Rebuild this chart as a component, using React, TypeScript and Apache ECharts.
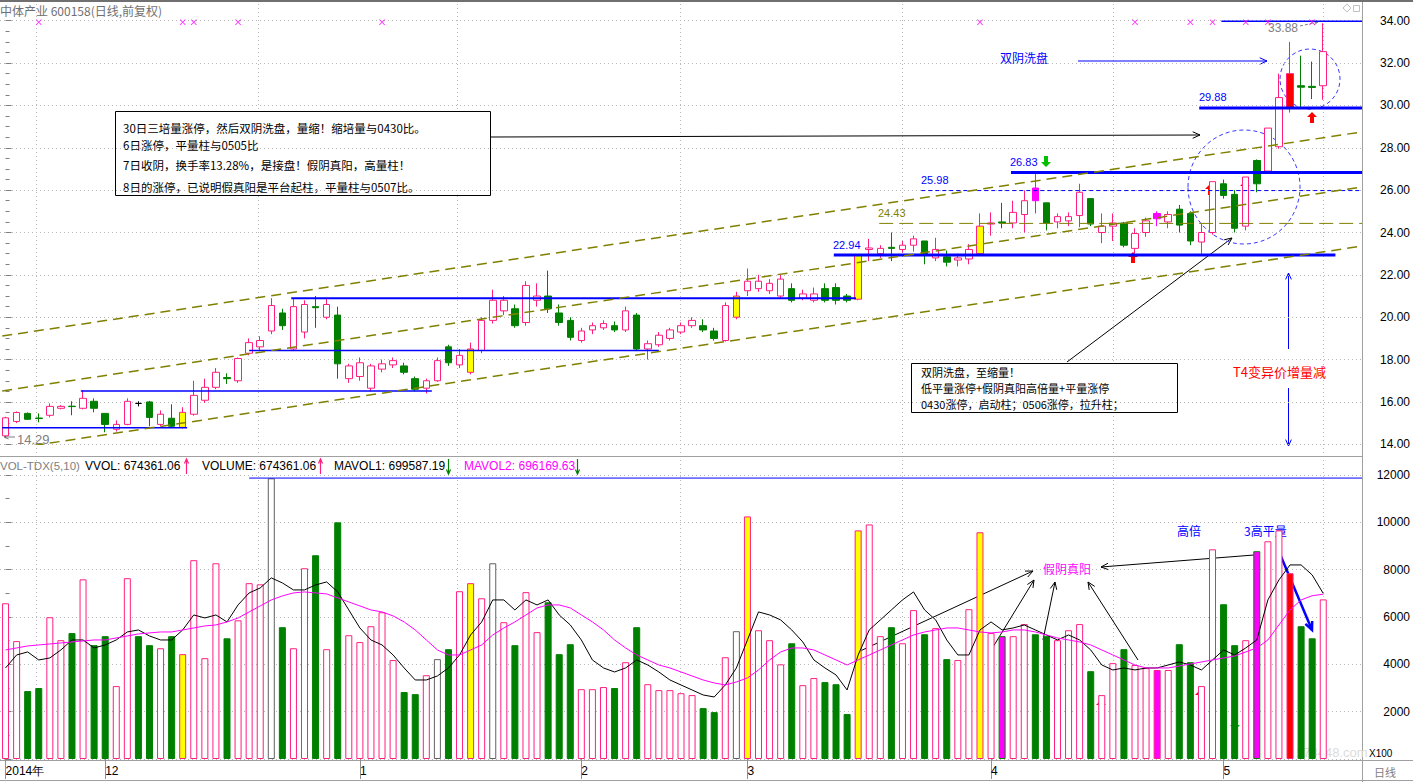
import { useEffect, useRef } from 'react';
import * as echarts from 'echarts';

// ---------- DATA ----------
const dates: string[] = [
  '2014-11-18','2014-11-19','2014-11-20','2014-11-21','2014-11-24','2014-11-25','2014-11-26','2014-11-27','2014-11-28',
  '2014-12-01','2014-12-02','2014-12-03','2014-12-04','2014-12-05','2014-12-08','2014-12-09','2014-12-10','2014-12-11','2014-12-12',
  '2014-12-15','2014-12-16','2014-12-17','2014-12-18','2014-12-19','2014-12-22','2014-12-23','2014-12-24','2014-12-25','2014-12-26',
  '2014-12-29','2014-12-30','2014-12-31',
  '2015-01-05','2015-01-06','2015-01-07','2015-01-08','2015-01-09','2015-01-12','2015-01-13','2015-01-14','2015-01-15','2015-01-16',
  '2015-01-19','2015-01-20','2015-01-21','2015-01-22','2015-01-23','2015-01-26','2015-01-27','2015-01-28','2015-01-29','2015-01-30',
  '2015-02-02','2015-02-03','2015-02-04','2015-02-05','2015-02-06','2015-02-09','2015-02-10','2015-02-11','2015-02-12','2015-02-13',
  '2015-02-16','2015-02-17','2015-02-25','2015-02-26','2015-02-27',
  '2015-03-02','2015-03-03','2015-03-04','2015-03-05','2015-03-06','2015-03-09','2015-03-10','2015-03-11','2015-03-12','2015-03-13',
  '2015-03-16','2015-03-17','2015-03-18','2015-03-19','2015-03-20','2015-03-23','2015-03-24','2015-03-25','2015-03-26','2015-03-27',
  '2015-03-30','2015-03-31',
  '2015-04-01','2015-04-02','2015-04-03','2015-04-07','2015-04-08','2015-04-09','2015-04-10','2015-04-13','2015-04-14','2015-04-15',
  '2015-04-16','2015-04-17','2015-04-20','2015-04-21','2015-04-22','2015-04-23','2015-04-24','2015-04-27','2015-04-28','2015-04-29',
  '2015-04-30',
  '2015-05-04','2015-05-05','2015-05-06','2015-05-07','2015-05-08','2015-05-11','2015-05-12','2015-05-13','2015-05-14','2015-05-15',
];

// [open, close, low, high]
const candles: number[][] = [
  [14.40,15.25,14.29,15.30],[15.08,15.50,15.00,15.55],[15.46,15.18,15.15,15.50],[15.24,15.22,15.04,15.46],[15.37,15.79,15.27,15.93],
  [15.70,15.79,15.65,15.85],[15.80,15.78,15.37,16.03],[15.70,16.17,15.65,16.55],[16.03,15.70,15.51,16.17],[15.46,14.94,14.57,15.46],
  [14.71,14.94,14.60,15.13],[14.94,16.03,14.90,16.17],[15.93,15.93,15.79,16.03],[16.00,15.27,14.85,16.05],[14.94,15.42,14.85,15.60],
  [15.23,14.85,14.80,15.89],[14.80,15.51,14.75,15.75],[15.42,16.31,15.35,17.00],[16.08,16.69,15.95,17.10],[16.69,17.40,16.60,17.60],
  [17.15,17.10,16.85,17.35],[17.00,18.05,16.90,18.10],[18.30,18.80,18.20,19.00],[18.60,18.90,18.40,19.10],[19.35,20.55,19.20,20.90],
  [20.20,19.60,19.40,20.40],[18.50,20.50,18.40,20.90],[19.30,20.60,19.00,20.80],[20.50,20.45,19.50,21.00],[20.00,20.60,19.90,20.90],
  [20.10,17.80,17.10,20.50],[17.10,17.70,16.90,17.80],[17.20,17.85,17.00,18.10],[16.65,17.70,16.50,17.80],[17.55,17.80,17.40,18.00],
  [17.75,17.95,17.60,18.10],[17.70,17.40,17.30,17.85],[17.10,16.60,16.50,17.20],[16.65,17.00,16.40,17.10],[17.00,17.95,16.95,18.10],
  [18.60,17.85,17.70,18.70],[17.75,18.20,17.60,18.50],[17.40,18.50,17.30,18.80],[18.43,19.85,18.30,20.00],[19.85,20.80,19.70,21.30],
  [20.30,20.80,20.10,21.00],[20.40,19.60,19.50,20.60],[19.75,21.50,19.60,21.70],[20.80,21.00,20.50,21.60],[21.00,20.40,20.20,22.20],
  [20.20,19.75,19.60,20.60],[19.85,19.05,18.90,20.00],[18.90,19.35,18.80,19.50],[19.40,19.60,19.20,19.75],[19.50,19.70,19.40,19.85],
  [19.60,19.40,19.30,19.80],[19.40,20.30,19.30,20.50],[20.10,18.50,18.40,20.20],[18.50,18.75,18.00,18.90],[18.70,19.15,18.60,19.30],
  [19.00,19.40,18.90,19.50],[19.30,19.60,19.20,19.75],[19.60,19.85,19.50,20.00],[19.60,19.40,19.30,19.90],[19.35,19.00,18.90,19.50],
  [18.90,20.55,18.85,20.70],[20.00,21.00,19.90,21.20],[21.25,21.70,21.00,22.30],[21.35,21.70,21.20,22.00],[21.25,21.60,21.10,21.80],
  [21.00,21.80,20.90,22.00],[21.35,20.80,20.70,21.60],[20.90,21.10,20.80,21.30],[20.80,21.10,20.70,21.40],[21.35,20.80,20.70,21.60],
  [21.40,20.80,20.60,21.60],[21.00,20.80,20.70,21.10],[20.85,22.94,20.80,22.94],[23.20,23.27,22.65,23.70],[23.00,23.25,22.80,23.40],
  [23.30,23.25,22.65,24.00],[23.20,23.40,23.05,23.60],[23.40,23.70,23.10,23.85],[23.60,22.95,22.50,23.60],[22.80,23.20,22.65,23.75],
  [22.85,22.60,22.40,23.15],[22.70,22.80,22.40,23.00],[22.75,23.20,22.50,23.45],[23.00,24.30,22.90,24.90],[24.40,24.45,23.85,24.95],
  [24.50,24.45,24.20,25.40],[24.45,24.95,24.20,25.50],[24.85,25.50,24.00,25.98],[26.10,25.50,24.90,26.83],[25.40,24.45,24.10,25.40],
  [24.50,24.75,24.20,24.90],[24.55,24.75,24.30,24.95],[24.80,25.90,24.25,26.30],[25.60,24.40,24.30,25.60],[24.00,24.30,23.50,24.90],
  [24.30,24.45,23.60,24.90],[24.45,23.40,23.30,24.50],[23.25,23.95,23.00,24.20],[24.00,24.55,23.80,24.70],[24.65,24.90,24.30,25.00],
  [24.50,24.85,24.20,25.00],[25.10,24.35,24.00,25.30],[24.90,23.60,23.40,25.00],[23.55,24.00,22.94,24.40],[24.00,26.40,23.90,26.40],
  [26.30,25.75,25.60,26.50],[25.80,24.20,24.00,26.00],[24.30,26.62,24.10,26.62],[27.40,26.30,25.90,27.45],[26.90,28.93,26.80,28.93],
  [28.05,30.37,27.95,31.50],[29.90,31.50,29.66,33.00],[30.93,30.86,29.88,32.35],[30.90,30.85,30.30,32.07],[30.93,32.54,30.27,33.88],
];

// volume, unit x100
const volumes: number[] = [
  6580,4980,2870,3000,5990,5020,5320,7590,4810,5190,3080,7640,5190,4810,4680,5190,4430,8400,4260,8270,
  5100,5860,7430,7380,11860,5570,4680,8060,8610,4640,10000,5230,4940,5610,6200,4180,2830,2740,3540,4220,
  4640,7090,7430,6790,8270,5780,4810,7050,5360,6620,4430,4850,2950,2950,3040,3000,4090,5570,3160,2910,
  2910,2780,2700,2150,1980,4300,5400,10250,5440,5020,4000,4890,3120,3420,3250,3160,1900,9660,9910,5190,
  5570,4890,6290,5270,5530,4220,4180,6330,9580,5320,5190,5190,5700,5270,5190,5020,5440,5700,3710,2700,
  4050,4640,3970,3840,3760,3760,4850,4090,3080,8860,6540,4810,5020,8780,9200,9660,7850,5610,5100,6744,
];

const mavol1: number[] = [
  3847,4396,4523,4185,4269,4607,5030,5030,4692,4819,5030,5368,5453,5199,5030,5030,5453,6087,5960,6087,
  5791,6510,7017,7228,7651,7440,7144,7144,7355,7482,7059,6298,5537,5030,4819,4396,3847,3339,3339,3508,
  3847,4396,5241,5791,6721,6721,6298,6721,6510,6721,6087,5664,5030,4185,3847,3677,3847,4185,3973,3677,
  3339,3128,2917,2705,2621,3128,3847,5030,6214,6087,5876,5453,4946,4185,3847,3551,2917,4396,5453,5876,
  6298,6721,7059,6298,5876,5030,4396,4396,5453,5791,5453,5537,5664,5453,5241,5030,5241,5030,4607,3973,
  3762,3847,3762,3847,3847,3973,4100,3973,3762,4185,4607,4396,4692,5030,6721,7566,8200,8200,7778,6996,
];

const mavol2: number[] = [
  4607,4692,4777,4819,4861,4903,4946,4988,5030,5030,5115,5199,5284,5326,5368,5368,5453,5537,5622,5664,
  5791,5960,6214,6467,6721,6890,7017,7059,7017,6975,6805,6636,6467,6298,6214,6045,5791,5453,5030,4607,
  4396,4396,4607,4819,5241,5537,5791,6087,6383,6510,6510,6383,6087,5791,5453,5030,4692,4396,4185,3973,
  3847,3677,3508,3339,3213,3128,3255,3424,3762,4185,4523,4692,4692,4607,4396,4185,3973,4185,4396,4607,
  4819,5030,5241,5368,5453,5537,5537,5453,5368,5326,5368,5453,5453,5368,5241,5115,5030,4946,4819,4607,
  4396,4185,3973,3847,3847,3847,3931,4016,4100,4185,4269,4354,4523,4692,5030,5664,6298,6721,6900,6962,
];

const yellowCandleDays = [16, 42, 66, 77, 88];
const yellowVolumeDays = [16, 42, 67, 77, 88];
const magentaCandleDays = [93, 104];
const magentaVolumeDays = [90, 104, 113];
const redDays = [116];
const greyVolumeDays = [24, 39, 44, 66];
const signalDays = [3, 16, 17, 21, 34, 88, 102, 107, 109, 112, 114, 118];

const priceLevels = [
  { value: 14.78, from: -0.3, to: 16.4, width: 1.5 },
  { value: 16.52, from: 6.8, to: 38.5, width: 1.5 },
  { value: 18.43, from: 22, to: 59, width: 1.5 },
  { value: 20.90, from: 25.8, to: 76.8, width: 2 },
  { value: 22.94, from: 74.8, to: 120.1, width: 3 },
  { value: 26.83, from: 90.8, to: 122.5, width: 3 },
  { value: 29.88, from: 107.8, to: 122.5, width: 3 },
  { value: 33.97, from: 109.8, to: 122.5, width: 1.5 },
];
const dashedLevel = { value: 25.98, from: 82.7, to: 122.5 };
const midLevel = { value: 24.43, from: 78.9, to: 122.5 };
const channelUpper = [[-0.3, 19.11], [122.5, 28.75]];
const channelMiddle = [[-0.3, 16.52], [122.5, 26.15]];
const channelLower = [[-0.3, 13.72], [122.5, 23.36]];
const volumeHighLine = [[22, 11870], [122.5, 11870]];

// ---------- STYLE ----------
const PINK = '#ff1f80';
const GREEN = '#008000';
const BLUE = '#0000ff';
const OLIVE = '#808000';
const GREY = '#808080';
const NCAT = 123;
const GL = -2.2;
const GW = 1364.2;
const FONT = '"Liberation Sans", Arial, sans-serif';
const CJK = '"Noto Sans CJK SC", sans-serif';

function line(x1: number, y1: number, x2: number, y2: number, color: string, lw = 1, dash?: number[]) {
  return { type: 'line', silent: true, shape: { x1, y1, x2, y2 }, style: { stroke: color, lineWidth: lw, lineDash: dash } };
}
function arrowLine(x1: number, y1: number, x2: number, y2: number, color: string, lw = 1, size = 7, dash?: number[]) {
  const a = Math.atan2(y2 - y1, x2 - x1);
  const p1 = [x2 - size * Math.cos(a - 0.42), y2 - size * Math.sin(a - 0.42)];
  const p2 = [x2 - size * Math.cos(a + 0.42), y2 - size * Math.sin(a + 0.42)];
  return [
    line(x1, y1, x2, y2, color, lw, dash),
    { type: 'polyline', silent: true, shape: { points: [p1, [x2, y2], p2] }, style: { stroke: color, lineWidth: lw, fill: null } },
  ];
}
function txt(s: string, x: number, y: number, color: string, size = 12, font = FONT, align = 'left') {
  return {
    type: 'text', silent: true, x, y,
    style: { text: s, fill: color, font: `${size}px ${font}`, align, verticalAlign: 'middle', textAlign: align, textVerticalAlign: 'middle' },
  };
}
function fatArrow(cx: number, cy: number, color: string, up = true) {
  const d = up ? 1 : -1;
  const pts = [
    [cx, cy - 6 * d], [cx + 5, cy - 1 * d], [cx + 2, cy - 1 * d], [cx + 2, cy + 5 * d],
    [cx - 2, cy + 5 * d], [cx - 2, cy - 1 * d], [cx - 5, cy - 1 * d],
  ];
  return { type: 'polygon', silent: true, shape: { points: pts }, style: { fill: color } };
}

function buildOption() {
  const cats = [...dates, 'b1', 'b2', 'b3'];
  const labelIdx = new Set<number>();
  dates.forEach((d, i) => { if (i === 0 || d.slice(5, 7) !== dates[i - 1].slice(5, 7)) labelIdx.add(i); });
  const showLabel = (i: number) => labelIdx.has(i);

  const isUp = (i: number) => {
    const [o, c] = candles[i];
    if (c !== o) return c > o;
    return i > 0 ? c >= candles[i - 1][1] : true;
  };

  const candleData = candles.map((r, i) => {
    const item: any = { value: [r[0], r[1], r[2], r[3]] };
    if (yellowCandleDays.includes(i)) item.itemStyle = { color: '#ffff00', color0: '#ffff00', borderColor: PINK, borderColor0: PINK };
    if (magentaCandleDays.includes(i)) item.itemStyle = { color: '#ff00ff', color0: '#ff00ff', borderColor: '#ff00ff', borderColor0: GREEN };
    if (redDays.includes(i)) item.itemStyle = { color: '#ff0000', color0: '#ff0000', borderColor: PINK, borderColor0: PINK };
    return item;
  });

  const volData = volumes.map((v, i) => {
    let style: any = isUp(i)
      ? { color: '#ffffff', borderColor: PINK, borderWidth: 1 }
      : { color: GREEN, borderColor: GREEN, borderWidth: 1 };
    if (greyVolumeDays.includes(i)) style = { color: '#ffffff', borderColor: '#606060', borderWidth: 1 };
    if (yellowVolumeDays.includes(i)) style = { color: '#ffff00', borderColor: PINK, borderWidth: 1 };
    if (magentaVolumeDays.includes(i)) style = { color: '#ff00ff', borderColor: isUp(i) ? PINK : GREEN, borderWidth: 1 };
    if (redDays.includes(i)) style = { color: '#ff0000', borderColor: PINK, borderWidth: 1 };
    return { value: v, itemStyle: style };
  });

  const levelSeries = priceLevels.map((l) => ({
    type: 'line', xAxisIndex: 2, yAxisIndex: 0, symbol: 'none', silent: true, z: 4,
    data: [[l.from, l.value], [l.to, l.value]],
    lineStyle: { color: BLUE, width: l.width },
  }));

  const xMark = 'path://M0,1L1,0L5,4L9,0L10,1L6,5L10,9L9,10L5,6L1,10L0,9L4,5Z';

  const graphics: any[] = [];
  // frame
  graphics.push(line(0, 1, 1413, 1, '#707070', 2));
  graphics.push(line(0, 456.5, 1362, 456.5, '#a0a0a0', 1));
  graphics.push(line(0, 760.5, 1413, 760.5, '#a0a0a0', 1));
  graphics.push(line(0, 780.5, 1413, 780.5, '#a0a0a0', 1));
  graphics.push(line(1362.5, 2, 1362.5, 782, '#a0a0a0', 1));
  [36, 258, 457, 680, 902, 1113, 1323].forEach((x) => {
    graphics.push(line(x + 0.5, 4, x + 0.5, 455, '#b8b8b8', 1, [1, 3]));
    graphics.push(line(x + 0.5, 460, x + 0.5, 759, '#b8b8b8', 1, [1, 3]));
  });
  // top-right window icons
  graphics.push({ type: 'polygon', silent: true, shape: { points: [[1343, 8], [1347, 4], [1351, 8], [1347, 12]] }, style: { fill: null, stroke: '#c0c0c0', lineWidth: 1 } });
  graphics.push({ type: 'rect', silent: true, shape: { x: 1353.5, y: 5.5, width: 6, height: 6 }, style: { fill: null, stroke: '#c0c0c0', lineWidth: 1 } });
  // title
  graphics.push(txt('中体产业 600158(日线,前复权)', 0, 10, '#707070', 12, CJK));
  // price labels
  graphics.push(txt('22.94', 833, 245, BLUE, 11));
  graphics.push(txt('26.83', 1010, 162, BLUE, 11));
  graphics.push(txt('25.98', 921, 180, BLUE, 11));
  graphics.push(txt('29.88', 1199, 97, BLUE, 11));
  graphics.push(txt('24.43', 878, 213, OLIVE, 11));
  graphics.push(txt('14.29', 17, 439, GREY, 13));
  graphics.push(...arrowLine(15, 437, 4, 437, GREY, 1, 5));
  graphics.push(txt('33.88', 1268, 28, GREY, 12));
  graphics.push(...arrowLine(1300, 26, 1318, 22, GREY, 1, 5, [3, 2]));

  // annotation box 1
  graphics.push({ type: 'rect', silent: true, shape: { x: 115.5, y: 111.5, width: 375, height: 84 }, style: { fill: '#ffffff', stroke: '#000000', lineWidth: 1 } });
  graphics.push(txt('30日三培量涨停，然后双阴洗盘，量缩！缩培量与0430比。', 123, 128, '#000', 11.5, CJK));
  graphics.push(txt('6日涨停，平量柱与0505比', 123, 145, '#000', 11.5, CJK));
  graphics.push(txt('7日收阴，换手率13.28%，是接盘！假阴真阳，高量柱！', 123, 165, '#000', 11.5, CJK));
  graphics.push(txt('8日的涨停，已说明假真阳是平台起柱，平量柱与0507比。', 123, 187, '#000', 11.5, CJK));
  graphics.push(...arrowLine(491, 137, 1200, 135, '#000', 1, 8));

  // annotation box 2
  graphics.push({ type: 'rect', silent: true, shape: { x: 911.5, y: 363.5, width: 266, height: 49 }, style: { fill: '#ffffff', stroke: '#000000', lineWidth: 1 } });
  graphics.push(txt('双阴洗盘，至缩量！', 921, 372, '#000', 11, CJK));
  graphics.push(txt('低平量涨停+假阴真阳高倍量+平量涨停', 921, 388, '#000', 11, CJK));
  graphics.push(txt('0430涨停，启动柱；0506涨停，拉升柱；', 921, 404, '#000', 11, CJK));
  graphics.push(...arrowLine(1067, 362, 1232, 238, '#000', 1, 8));

  // blue notes
  graphics.push(txt('双阴洗盘', 1000, 57, BLUE, 12, CJK));
  graphics.push(...arrowLine(1078, 61, 1267, 61, BLUE, 1, 8));
  graphics.push(txt('T4变异价增量减', 1233, 371, '#ff0000', 13, CJK));
  graphics.push(...arrowLine(1288.5, 349, 1288.5, 273, BLUE, 1, 7));
  graphics.push(...arrowLine(1288.5, 388, 1288.5, 446, BLUE, 1, 7));

  // dashed circles
  graphics.push({ type: 'ellipse', silent: true, shape: { cx: 1244, cy: 187, rx: 56, ry: 57 }, style: { fill: null, stroke: '#3a3aff', lineWidth: 1, lineDash: [4, 3] } });
  graphics.push({ type: 'ellipse', silent: true, shape: { cx: 1310, cy: 79, rx: 30, ry: 30 }, style: { fill: null, stroke: '#3a3aff', lineWidth: 1, lineDash: [4, 3] } });

  // signal arrows
  graphics.push(fatArrow(1133, 258, '#ff0000', true));
  graphics.push(fatArrow(1210, 190, '#ff0000', true));
  graphics.push(fatArrow(1245, 187, '#ff0000', true));
  graphics.push(fatArrow(1312, 118, '#ff0000', true));
  graphics.push(fatArrow(1046, 161, '#00c000', false));
  graphics.push(fatArrow(1101, 706, '#ff0000', true));
  graphics.push(fatArrow(1200, 696, '#ff0000', true));
  graphics.push(fatArrow(1235, 724, '#00c000', false));

  // volume header
  graphics.push(txt('VOL-TDX(5,10)', 0, 466, GREY, 11.5));
  graphics.push(txt('VVOL: 674361.06', 85, 466, '#000', 12));
  graphics.push(...arrowLine(186.5, 474, 186.5, 459, PINK, 1.2, 5));
  graphics.push(txt('VOLUME: 674361.06', 202, 466, '#000', 12));
  graphics.push(...arrowLine(320.5, 474, 320.5, 459, PINK, 1.2, 5));
  graphics.push(txt('MAVOL1: 699587.19', 334, 466, '#000', 12));
  graphics.push(...arrowLine(448.5, 459, 448.5, 474, GREEN, 1.2, 5));
  graphics.push(txt('MAVOL2: 696169.63', 464, 466, '#ff00ff', 12));
  graphics.push(...arrowLine(577.5, 459, 577.5, 474, GREEN, 1.2, 5));

  // volume notes
  graphics.push(txt('假阴真阳', 1043, 568, '#ff00ff', 12, CJK));
  graphics.push(...arrowLine(858, 652, 1033, 571, '#000', 1, 8));
  graphics.push(...arrowLine(993, 647, 1034, 580, '#000', 1, 8));
  graphics.push(...arrowLine(1043, 640, 1055, 582, '#000', 1, 8));
  graphics.push(...arrowLine(1138, 660, 1088, 582, '#000', 1, 8));
  graphics.push(...arrowLine(1254, 555, 1101, 567, '#000', 1, 8));
  graphics.push(txt('高倍', 1177, 530, BLUE, 12, CJK));
  graphics.push(txt('3高平量', 1244, 530, BLUE, 12, CJK));
  graphics.push(...arrowLine(1277, 547, 1312, 630, BLUE, 2.5, 9));

  // bottom misc
  graphics.push(txt('178448.com', 1296, 752, '#dcdcdc', 13, FONT));
  graphics.push(txt('X100', 1369, 753, '#000', 10));
  graphics.push(txt('日线', 1374, 772, GREY, 11, CJK));

  return {
    animation: false,
    backgroundColor: '#ffffff',
    grid: [
      { left: GL, width: GW, top: 20.7, height: 423.6 },
      { left: GL, width: GW, top: 475, height: 284 },
    ],
    xAxis: [
      { type: 'category', gridIndex: 0, data: cats, boundaryGap: true, axisLine: { show: false }, axisTick: { show: false }, axisLabel: { show: false }, splitLine: { show: false } },
      {
        type: 'category', gridIndex: 1, data: cats, boundaryGap: true,
        axisLine: { show: false },
        axisTick: { show: true, interval: (i: number) => showLabel(i), alignWithLabel: true, length: 20, lineStyle: { color: '#909090' } },
        axisLabel: {
          show: true, interval: (i: number) => showLabel(i), align: 'left', margin: 6, color: '#000', fontSize: 12, fontFamily: FONT,
          formatter: (v: string, i: number) => (i === 0 ? '2014年' : String(parseInt(v.slice(5, 7), 10))),
        },
        splitLine: { show: false },
      },
      { type: 'value', gridIndex: 0, min: -0.5, max: NCAT - 0.5, show: false },
      { type: 'value', gridIndex: 1, min: -0.5, max: NCAT - 0.5, show: false },
    ],
    yAxis: [
      {
        type: 'value', gridIndex: 0, position: 'right', min: 14, max: 34, interval: 2,
        axisLine: { show: false },
        axisTick: { show: true, length: 6, lineStyle: { color: GREY } },
        minorTick: { show: true, splitNumber: 4, length: 4, lineStyle: { color: GREY } },
        axisLabel: { formatter: (v: number) => v.toFixed(2), align: 'right', margin: 48, color: '#000', fontSize: 12, fontFamily: FONT },
        splitLine: { show: true, lineStyle: { color: '#b8b8b8', type: [1, 3] } },
      },
      {
        type: 'value', gridIndex: 1, position: 'right', min: 0, max: 12000, interval: 2000,
        axisLine: { show: false },
        axisTick: { show: true, length: 6, lineStyle: { color: GREY } },
        minorTick: { show: true, splitNumber: 2, length: 4, lineStyle: { color: GREY } },
        axisLabel: { formatter: (v: number) => (v === 0 ? '' : String(v)), align: 'right', margin: 48, color: '#000', fontSize: 12, fontFamily: FONT },
        splitLine: { show: true, lineStyle: { color: '#b8b8b8', type: [1, 3] } },
      },
    ],
    series: [
      {
        type: 'candlestick', xAxisIndex: 0, yAxisIndex: 0, barWidth: 7, data: candleData, z: 3,
        itemStyle: { color: '#ffffff', color0: GREEN, borderColor: PINK, borderColor0: GREEN, borderColorDoji: '#000000', borderWidth: 1 },
      },
      ...levelSeries,
      {
        type: 'line', xAxisIndex: 2, yAxisIndex: 0, symbol: 'none', silent: true, z: 4,
        data: [[dashedLevel.from, dashedLevel.value], [dashedLevel.to, dashedLevel.value]],
        lineStyle: { color: BLUE, width: 1, type: [4, 3] },
      },
      {
        type: 'line', xAxisIndex: 2, yAxisIndex: 0, symbol: 'none', silent: true, z: 4,
        data: [[midLevel.from, midLevel.value], [midLevel.to, midLevel.value]],
        lineStyle: { color: OLIVE, width: 1, type: [14, 6] },
      },
      ...[channelUpper, channelMiddle, channelLower].map((c) => ({
        type: 'line', xAxisIndex: 2, yAxisIndex: 0, symbol: 'none', silent: true, z: 4, data: c,
        lineStyle: { color: OLIVE, width: 1.5, type: [10, 6] },
      })),
      {
        type: 'scatter', xAxisIndex: 2, yAxisIndex: 0, symbol: xMark, symbolSize: 6, silent: true, z: 5,
        data: signalDays.map((i) => [i, 33.93]), itemStyle: { color: '#ff00ff' },
      },
      { type: 'bar', xAxisIndex: 1, yAxisIndex: 1, barWidth: 7, data: volData, z: 2 },
      { type: 'line', xAxisIndex: 1, yAxisIndex: 1, symbol: 'none', silent: true, z: 4, data: mavol1, lineStyle: { color: '#000000', width: 1 } },
      { type: 'line', xAxisIndex: 1, yAxisIndex: 1, symbol: 'none', silent: true, z: 4, data: mavol2, lineStyle: { color: '#ff00ff', width: 1 } },
      {
        type: 'line', xAxisIndex: 3, yAxisIndex: 1, symbol: 'none', silent: true, z: 4, data: volumeHighLine,
        lineStyle: { color: BLUE, width: 1 },
      },
    ],
    graphic: graphics,
  };
}

export default function App() {
  const ref = useRef<HTMLDivElement>(null);
  useEffect(() => {
    document.body.style.margin = '0';
    const chart = echarts.init(ref.current!, undefined, { renderer: 'svg' });
    chart.setOption(buildOption() as any);
    return () => chart.dispose();
  }, []);
  return <div ref={ref} style={{ width: 1413, height: 782, background: '#fff' }} />;
}
